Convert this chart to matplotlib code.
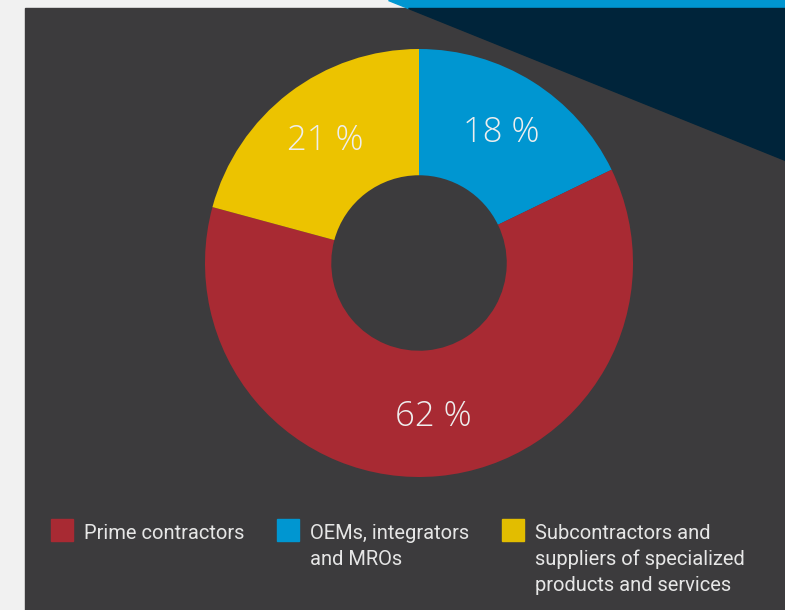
import numpy as np
import matplotlib.pyplot as plt
from matplotlib.patches import Rectangle, Polygon

# market share by company type
segments = ["Prime contractors", "OEMs, integrators\nand MROs",
            "Subcontractors and\nsuppliers of specialized\nproducts and services"]
shares = [62, 18, 21]
slice_colors = ["#a82a33", "#0096d1", "#ecc300"]
legend_colors = ["#a82a33", "#0096d1", "#e2bd00"]

W, H = 785, 610
fig = plt.figure(figsize=(W / 100, H / 100), dpi=100)

# background in pixel coordinates
bg = fig.add_axes([0, 0, 1, 1])
bg.set_xlim(0, W)
bg.set_ylim(H, 0)
bg.axis("off")
bg.add_patch(Rectangle((0, 0), W, H, color="#f1f1f1", zorder=0))
bg.add_patch(Rectangle((25, 8), W - 25, H - 8, color="#3c3b3d", zorder=1))
slope = 160 / (785 - 388)
x8 = 388 + 8 / slope
bg.add_patch(Polygon([(388, 0), (W, 0), (W, 8), (x8, 8)], closed=True,
                     color="#0096d1", zorder=2))
bg.add_patch(Polygon([(x8, 8), (W, 8), (W, 160)], closed=True,
                     color="#00243a", zorder=2))

# donut
cx, cy, R = 419, 263, 214
ax = fig.add_axes([(cx - R) / W, (H - cy - R) / H, 2 * R / W, 2 * R / H])
order = [1, 0, 2]  # blue, red, yellow clockwise from 12 o'clock
vals = [shares[i] for i in order]
wedges, _ = ax.pie(vals, colors=[slice_colors[i] for i in order],
                   startangle=90, counterclock=False,
                   wedgeprops=dict(width=0.59, linewidth=0))
ax.set_xlim(-1, 1)
ax.set_ylim(-1, 1)
ax.set_aspect("equal")
ax.axis("off")
for w, v in zip(wedges, vals):
    ang = np.deg2rad((w.theta1 + w.theta2) / 2)
    r = 0.72
    ax.text(r * np.cos(ang), r * np.sin(ang), f"{v} %", ha="center", va="center",
            color="#eeeeee", fontsize=25, family="Open Sans", fontweight="light")

# legend
lx = [51, 277, 502]
for x, lab, c in zip(lx, segments, legend_colors):
    bg.add_patch(Rectangle((x, 519), 22, 22, color=c, zorder=3))
    bg.text(x + 33, 524, lab, ha="left", va="top", color="#e6e6e6",
            fontsize=14.5, family="Roboto", linespacing=1.45, zorder=3)

fig.savefig("out.png", dpi=100)
